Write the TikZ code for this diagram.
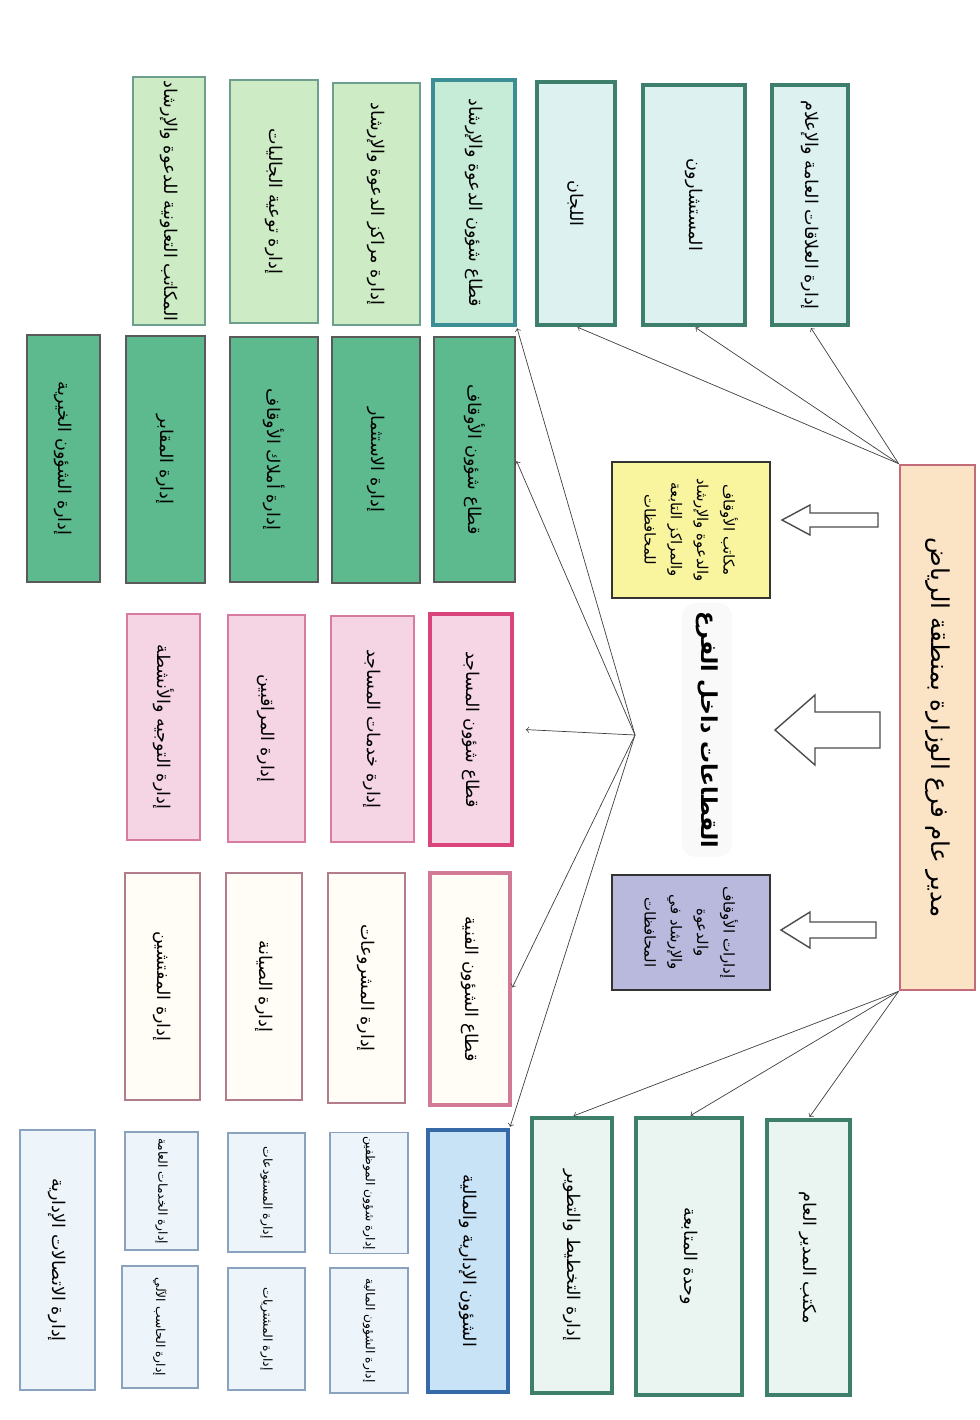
\documentclass[tikz,border=0pt]{standalone}
\usepackage{fontspec}
\newfontfamily\arabicfont[Script=Arabic]{DejaVu Sans}
\TeXXeTstate=1
\newcommand{\ar}[1]{{\arabicfont\beginR #1\endR}}

\definecolor{orgfill}{HTML}{FBE3C6}
\definecolor{orgline}{HTML}{C46B7A}
\definecolor{tealline}{HTML}{3D7F6B}
\definecolor{cyanfill}{HTML}{DDF1F1}
\definecolor{mintfill}{HTML}{EAF5F1}
\definecolor{dawahfill}{HTML}{C6EBD6}
\definecolor{dawahline}{HTML}{3B8E93}
\definecolor{leaffill}{HTML}{CDEBC4}
\definecolor{leafline}{HTML}{6E9E8E}
\definecolor{awqaffill}{HTML}{5DBA8F}
\definecolor{mosqfill}{HTML}{F6D6E5}
\definecolor{mosqline}{HTML}{D9457A}
\definecolor{rosefill}{HTML}{F5D5E4}
\definecolor{roseline}{HTML}{D77BA0}
\definecolor{techfill}{HTML}{FFFDF6}
\definecolor{techline}{HTML}{D27A95}
\definecolor{adminfill}{HTML}{C8E2F6}
\definecolor{adminline}{HTML}{3569A8}
\definecolor{paperfill}{HTML}{EEF5FA}
\definecolor{paperline}{HTML}{8AA2BE}
\definecolor{yellowfill}{HTML}{F9F49E}
\definecolor{lilacfill}{HTML}{B9B9DE}

\begin{document}
\begin{tikzpicture}[x=0.02cm, y=-0.02cm,
    box/.style={draw, rotate=-90, align=center, inner sep=2pt, line width=1pt,
        font=\fontsize{10}{12}\selectfont},
    gmbox/.style={box, fill=orgfill, draw=orgline, line width=1.6pt,
        font=\fontsize{14}{16}\selectfont},
    topbox/.style={box, fill=cyanfill, draw=tealline, line width=1.8pt},
    botbox/.style={box, fill=mintfill, draw=tealline, line width=1.8pt},
    dawahhead/.style={box, fill=dawahfill, draw=dawahline, line width=1.8pt},
    dawahsub/.style={box, fill=leaffill, draw=leafline},
    awqafbox/.style={box, fill=awqaffill, draw=gray!70!black},
    mosqhead/.style={box, fill=mosqfill, draw=mosqline, line width=1.8pt},
    mosqsub/.style={box, fill=rosefill, draw=roseline},
    techhead/.style={box, fill=techfill, draw=techline, line width=1.8pt},
    techsub/.style={box, fill=techfill, draw=techline!60!gray},
    adminhead/.style={box, fill=adminfill, draw=adminline, line width=1.8pt},
    adminsub/.style={box, fill=paperfill, draw=paperline, font=\fontsize{7}{9}\selectfont},
    notebox/.style={box, draw=gray!40!black, line width=1.4pt,
        font=\fontsize{8.5}{15}\selectfont},
    hollowarrow/.style={draw=gray!60!black, fill=white, line width=0.8pt},
    link/.style={->, draw=gray!50!black, thin, shorten >=1pt}]

    \useasboundingbox (0,0) rectangle (980,1420);
    \fill[white] (0,0) rectangle (980,1420);

    % top of the chart
    \node[gmbox, minimum width=10.5cm, minimum height=1.5cm] (gm) at (937.5,727.5) {\ar{مدير عام فرع الوزارة بمنطقة الرياض}};

    \node[topbox, minimum width=4.8cm, minimum height=1.52cm] (pr) at (810,205) {\ar{إدارة العلاقات العامة والإعلام}};
    \node[topbox, minimum width=4.8cm, minimum height=2.04cm] (cons) at (694,205) {\ar{المستشارون}};
    \node[topbox, minimum width=4.86cm, minimum height=1.56cm] (comm) at (576,203.5) {\ar{اللجان}};

    \node[botbox, minimum width=5.5cm, minimum height=1.66cm] (office) at (808.5,1257.5) {\ar{مكتب المدير العام}};
    \node[botbox, minimum width=5.54cm, minimum height=2.12cm] (follow) at (689,1256.5) {\ar{وحدة المتابعة}};
    \node[botbox, minimum width=5.5cm, minimum height=1.6cm] (plan) at (572,1255.5) {\ar{إدارة التخطيط والتطوير}};

    \node[notebox, fill=yellowfill, minimum width=2.72cm, minimum height=3.16cm] (offices) at (691,530)
        {\ar{مكاتب الأوقاف}\\\ar{والدعوة والإرشاد}\\\ar{والمراكز التابعة}\\\ar{للمحافظات}};
    \node[notebox, fill=lilacfill, minimum width=2.3cm, minimum height=3.16cm] (depts) at (691,932.5)
        {\ar{إدارات الأوقاف}\\\ar{والدعوة}\\\ar{والإرشاد في}\\\ar{المحافظات}};
    \node[rotate=-90, fill=gray!5, rounded corners=8pt, inner xsep=5pt, inner ysep=8pt,
        font=\fontsize{12.5}{15}\selectfont\bfseries] (sectors) at (707,730) {\ar{القطاعات داخل الفرع}};

    \draw[hollowarrow] (878,513) -- (810,513) -- (810,505) -- (782,520) -- (810,535) -- (810,527) -- (878,527) -- cycle;
    \draw[hollowarrow] (880,712) -- (815,712) -- (815,695) -- (775,730) -- (815,765) -- (815,748) -- (880,748) -- cycle;
    \draw[hollowarrow] (876,922) -- (810,922) -- (810,912) -- (781,930) -- (810,948) -- (810,938) -- (876,938) -- cycle;

    % sectors
    \node[dawahhead, minimum width=4.9cm, minimum height=1.64cm] (dawah) at (474,202.5) {\ar{قطاع شؤون الدعوة والإرشاد}};
    \node[awqafbox, minimum width=4.9cm, minimum height=1.62cm] (awqaf) at (474.5,459.5) {\ar{قطاع شؤون الأوقاف}};
    \node[mosqhead, minimum width=4.62cm, minimum height=1.64cm] (mosq) at (471,729.5) {\ar{قطاع شؤون المساجد}};
    \node[techhead, minimum width=4.64cm, minimum height=1.6cm] (tech) at (470,989) {\ar{قطاع الشؤون الفنية}};
    \node[adminhead, minimum width=5.24cm, minimum height=1.6cm] (admin) at (468,1261) {\ar{الشؤون الإدارية والمالية}};

    \node[dawahsub, minimum width=4.84cm, minimum height=1.74cm] (centres) at (376.5,204) {\ar{إدارة مراكز الدعوة والإرشاد}};
    \node[dawahsub, minimum width=4.86cm, minimum height=1.76cm] (expats) at (274,201.5) {\ar{إدارة توعية الجاليات}};
    \node[dawahsub, minimum width=4.84cm, minimum height=1.44cm] (coop) at (169,201) {\ar{المكاتب التعاونية للدعوة والإرشاد}};

    \node[awqafbox, minimum width=4.92cm, minimum height=1.76cm] (invest) at (376,460) {\ar{إدارة الاستثمار}};
    \node[awqafbox, minimum width=4.9cm, minimum height=1.76cm] (estates) at (274,459.5) {\ar{إدارة أملاك الأوقاف}};
    \node[awqafbox, minimum width=4.94cm, minimum height=1.58cm] (graves) at (165.5,459.5) {\ar{إدارة المقابر}};
    \node[awqafbox, minimum width=4.94cm, minimum height=1.46cm] (charity) at (63.5,458.5) {\ar{إدارة الشؤون الخيرية}};

    \node[mosqsub, minimum width=4.52cm, minimum height=1.66cm] (services) at (372.5,729) {\ar{إدارة خدمات المساجد}};
    \node[mosqsub, minimum width=4.54cm, minimum height=1.54cm] (monitors) at (266.5,728.5) {\ar{إدارة المراقبين}};
    \node[mosqsub, minimum width=4.52cm, minimum height=1.46cm] (guidance) at (163.5,727) {\ar{إدارة التوجيه والأنشطة}};

    \node[techsub, minimum width=4.6cm, minimum height=1.54cm] (projects) at (366.5,988) {\ar{إدارة المشروعات}};
    \node[techsub, minimum width=4.54cm, minimum height=1.52cm] (upkeep) at (264,986.5) {\ar{إدارة الصيانة}};
    \node[techsub, minimum width=4.54cm, minimum height=1.5cm] (inspect) at (162.5,986.5) {\ar{إدارة المفتشين}};

    \node[adminsub, minimum width=2.4cm, minimum height=1.56cm] (staff) at (369,1193) {\ar{إدارة شؤون الموظفين}};
    \node[adminsub, minimum width=2.38cm, minimum height=1.54cm] (stores) at (266.5,1192.5) {\ar{إدارة المستودعات}};
    \node[adminsub, minimum width=2.36cm, minimum height=1.46cm] (general) at (161.5,1191) {\ar{إدارة الخدمات العامة}};
    \node[adminsub, minimum width=2.5cm, minimum height=1.56cm] (finance) at (369,1330.5) {\ar{إدارة الشؤون المالية}};
    \node[adminsub, minimum width=2.44cm, minimum height=1.54cm] (purchase) at (266.5,1329) {\ar{إدارة المشتريات}};
    \node[adminsub, minimum width=2.44cm, minimum height=1.52cm] (computer) at (160,1327) {\ar{إدارة الحاسب الآلي}};
    \node[adminsub, minimum width=5.2cm, minimum height=1.5cm, font=\fontsize{10}{12}\selectfont] (comms) at (57.5,1260) {\ar{إدارة الاتصالات الإدارية}};

    % connectors
    \coordinate (hub) at (635,735);
    \foreach \t in {pr,cons,comm}
        \draw[link] (gm.south west) -- (\t.east);
    \foreach \t in {office,follow,plan}
        \draw[link] (gm.south east) -- (\t.west);
    \draw[link] (hub) -- (dawah.north east);
    \draw[link] (hub) -- (awqaf.north);
    \draw[link] (hub) -- ([xshift=6pt]mosq.north);
    \draw[link] (hub) -- (tech.north);
    \draw[link] (hub) -- (admin.north west);
\end{tikzpicture}
\end{document}
